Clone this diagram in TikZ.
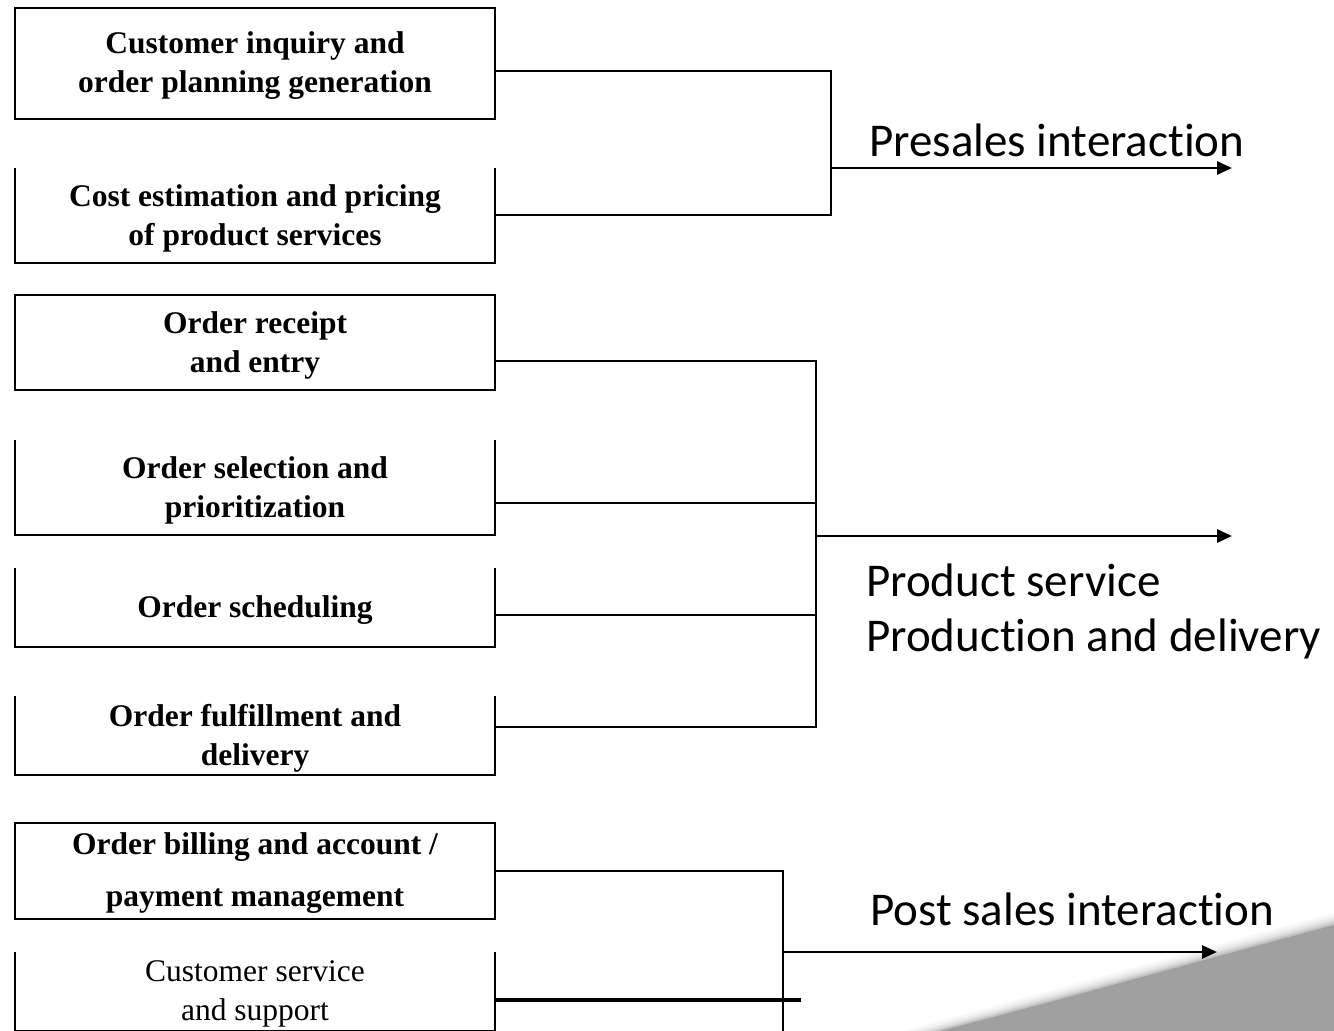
\documentclass[tikz,border=0pt]{standalone}
\usepackage{fontspec}
\setmainfont{Liberation Serif}
\newfontfamily\calib[Ligatures={NoCommon,NoRare,NoContextual}]{Carlito}
\usetikzlibrary{arrows.meta}
\definecolor{wedge}{RGB}{160,160,160}
\tikzset{
  stage/.style={minimum width=480pt, outer sep=0pt, inner sep=0pt, align=center,
    font=\bfseries\fontsize{31.5}{39}\selectfont},
  link/.style={line width=2.6pt, line cap=rect},
  border/.style={line width=2.6pt, line join=miter},
  flow/.style={line width=2.6pt, -{Triangle[length=15pt,width=13pt]}},
  phase/.style={anchor=base west, inner sep=0pt, font=\calib\fontsize{47}{55}\selectfont}
}
% frame edges sit 2.5pt above the centred text block
\newcommand\up[1]{([yshift=2.5pt]#1)}
\begin{document}
\begin{tikzpicture}[x=1pt,y=-1pt]
\clip (0,0) rectangle (1334,1031);
\fill[white] (0,0) rectangle (1334,1031);

% grey corner wedge with a soft upper edge
\foreach \d/\t in {12/6,10/12,8/20,6/30,4/45,2/65,0/100}
  \fill[wedge!\t] (1334,925-\d) .. controls (1210,958-\d) and (1060,1000-\d) .. (940-3*\d,1031) -- (1334,1031) -- cycle;

% order-process stages
\node[stage, minimum height=111pt] (b1) at (255,66) {Customer inquiry and\\order planning generation};
\node[stage, minimum height=95pt] (b2) at (255,218) {Cost estimation and pricing\\of product services};
\node[stage, minimum height=95pt] (b3) at (255,345) {Order receipt\\and entry};
\node[stage, minimum height=95pt] (b4) at (255,490) {Order selection and\\prioritization};
\node[stage, minimum height=79pt] (b5) at (255,610) {Order scheduling};
\node[stage, minimum height=79pt] (b6) at (255,738) {Order fulfillment and\\delivery};
\node[stage, minimum height=96pt, font=\bfseries\fontsize{31.5}{52}\selectfont] (b7) at (255,873.5) {Order billing and account /\\payment management};
\node[stage, minimum height=79pt, font=\fontsize{31.5}{39}\selectfont] (b8) at (255,994) {Customer service\\and support};

% closed frames
\foreach \b in {b1,b3,b7}
  \draw[border] \up{\b.north west} rectangle \up{\b.south east};
% frames open at the top
\foreach \b in {b2,b4,b5,b6,b8}
  \draw[border] \up{\b.north west} -- \up{\b.south west} -- \up{\b.south east} -- \up{\b.north east};

% presales group
\coordinate (j1a) at (831,71);
\coordinate (j1b) at (831,215);
\coordinate (j1m) at (831,168);
\coordinate (t1) at (1232,168);
\draw[link] (b1.east |- j1a) -- (j1a) -- (j1b) -- (b2.east |- j1b);
\draw[flow] (j1m) -- (t1);
\node[phase] (l1) at (869,156) {Presales interaction};

% production group
\coordinate (j2a) at (816,361);
\coordinate (j2b) at (816,503);
\coordinate (j2c) at (816,615);
\coordinate (j2d) at (816,727);
\coordinate (j2m) at (816,536);
\coordinate (t2) at (1232,536);
\draw[link] (b3.east |- j2a) -- (j2a) -- (j2d) -- (b6.east |- j2d);
\draw[link] (b4.east |- j2b) -- (j2b);
\draw[link] (b5.east |- j2c) -- (j2c);
\draw[flow] (j2m) -- (t2);
\node[phase] (l2) at (866,596) {Product service};
\node[phase] (l3) at (866,651) {Production and delivery};

% post-sales group
\coordinate (j3a) at (783,871);
\coordinate (j3b) at (783,1040);
\coordinate (j3m) at (783,952);
\coordinate (j3x) at (801,1000);
\coordinate (t3) at (1217,952);
\draw[link] (b7.east |- j3a) -- (j3a) -- (j3b);
\draw[line width=3.4pt] (b8.east |- j3x) -- (j3x);
\draw[flow] (j3m) -- (t3);
\node[phase] (l4) at (870,925) {Post sales interaction};
\end{tikzpicture}
\end{document}
